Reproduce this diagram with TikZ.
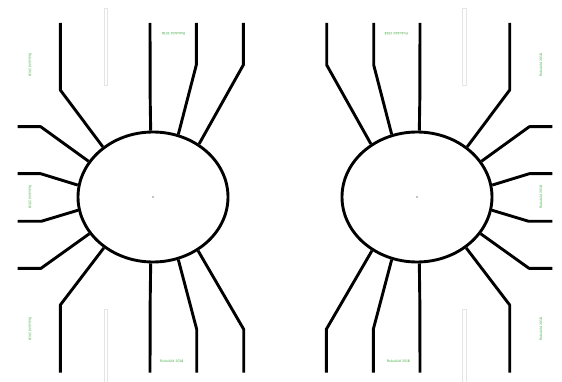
\documentclass[tikz,border=0pt]{standalone}
\usepackage{xcolor}
\usepackage{tikz}
\usetikzlibrary{shapes.geometric}
\definecolor{tagGreen}{RGB}{60,170,60}

\begin{document}
\begin{tikzpicture}[
  x=1pt, y=-1pt,
  ring/.style={draw, ellipse, line width=2.9pt, minimum width=150pt, minimum height=130pt, inner sep=0pt},
  spoke/.style={line width=2.9pt, line join=round},
  tag/.style={text=tagGreen, font=\sffamily\fontsize{3.6}{4}\selectfont, inner sep=0pt},
  slot/.style={draw=gray!20, line width=0.7pt}
]
  \useasboundingbox[fill=white] (0,0) rectangle (562,382);

  % thin guide slots
  \draw[slot] (104,8) rectangle (107.5,85);
  \draw[slot] (104,309) rectangle (107.5,384);
  \draw[slot] (462.5,8) rectangle (466,85);
  \draw[slot] (462.5,309) rectangle (466,384);

  \node[ring] (eL) at (153,197) {};
  \node[ring] (eR) at (417,197) {};
  \fill (eL.center) circle (0.6);
  \fill (eR.center) circle (0.6);

  % spokes, right half mirrored
  \foreach \ox/\oy/\bx/\by/\a [evaluate=\a as \b using int(180-\a)] in {60.3/23/60.3/90/135,
      150/23/150.2/100/92, 196.3/23/196.3/65/68, 243.3/23/243.3/65/49,
      17.7/126.7/40.7/126.7/151, 17.7/173.7/40.7/173.7/171, 17.7/221.3/41.3/221.3/190,
      17.7/268.3/41/268.3/210, 60.3/372.7/60.3/305/226, 150/372.7/150.2/300/268,
      196.7/372.7/196.7/329.3/292, 243.7/372.7/243.7/329.3/310}
  {
    \draw[spoke] (\ox,\oy) -- (\bx,\by) -- (eL.\a);
    \draw[spoke] ({570-\ox},\oy) -- ({570-\bx},\by) -- (eR.\b);
  }

  % green marks
  \node[tag, rotate=180] (tTL) at (173.7,34) {Robobild 2018};
  \node[tag, rotate=180] (tTR) at (396.3,34) {Robobild 2018};
  \node[tag] (tBL) at (171.7,361) {Robobild 2018};
  \node[tag] (tBR) at (398.3,361) {Robobild 2018};
  \foreach \y [count=\i] in {65,197,329} {
    \node[tag, rotate=-90] (tL\i) at (30,\y) {Robobild 2018};
    \node[tag, rotate=90] (tR\i) at (541,\y) {Robobild 2018};
  }
\end{tikzpicture}
\end{document}
